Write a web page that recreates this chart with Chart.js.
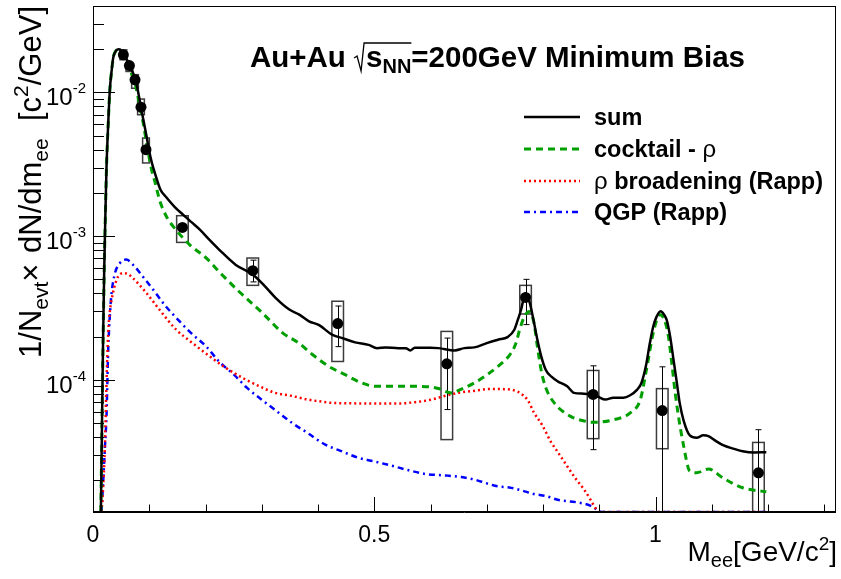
<!DOCTYPE html>
<html><head><meta charset="utf-8">
<script src="https://cdn.jsdelivr.net/npm/chart.js@4.4.0/dist/chart.umd.min.js"></script>
<style>html,body{margin:0;padding:0;background:#fff;}</style>
</head><body>
<canvas id="c" width="841" height="579"></canvas>
<script>
// ---------- data ----------
const sumMass  = [0.014,0.016,0.018,0.020,0.022,0.024,0.027,0.030,0.033,0.036,0.040,0.045,0.050,0.055,0.060,0.065,0.070,0.075,0.080,0.085,0.090,0.095,0.100,0.105,0.110,0.120,0.131,0.145,0.160,0.175,0.190,0.205,0.225,0.254,0.284,0.305,0.325,0.349,0.366,0.384,0.402,0.425,0.443,0.466,0.490,0.505,0.520,0.543,0.556,0.564,0.572,0.600,0.614,0.643,0.660,0.678,0.700,0.720,0.737,0.749,0.755,0.761,0.765,0.769,0.773,0.778,0.784,0.790,0.797,0.805,0.815,0.826,0.843,0.855,0.873,0.896,0.911,0.925,0.943,0.955,0.967,0.975,0.983,0.990,0.996,1.002,1.009,1.015,1.020,1.026,1.032,1.038,1.043,1.050,1.061,1.073,1.085,1.094,1.107,1.120,1.140,1.155,1.175,1.197];
const sumYield = [1.2e-5,5e-5,2e-4,6e-4,1.4e-3,3.0e-3,6.0e-3,1.05e-2,1.4e-2,1.75e-2,1.93e-2,2.0e-2,1.97e-2,1.85e-2,1.7e-2,1.55e-2,1.4e-2,1.25e-2,1.02e-2,8.0e-3,6.3e-3,5.0e-3,3.9e-3,3.2e-3,2.75e-3,2.1e-3,1.85e-3,1.6e-3,1.41e-3,1.25e-3,1.11e-3,9.6e-4,8.0e-4,6.3e-4,5.4e-4,4.5e-4,3.7e-4,3.08e-4,2.85e-4,2.55e-4,2.40e-4,2.06e-4,1.95e-4,1.82e-4,1.75e-4,1.66e-4,1.68e-4,1.66e-4,1.66e-4,1.60e-4,1.67e-4,1.67e-4,1.66e-4,1.60e-4,1.66e-4,1.68e-4,1.80e-4,1.90e-4,1.98e-4,2.23e-4,2.6e-4,3.07e-4,3.6e-4,4.0e-4,3.8e-4,3.25e-4,2.5e-4,1.9e-4,1.45e-4,1.17e-4,1.05e-4,9.75e-5,9.0e-5,8.1e-5,8.0e-5,7.67e-5,7.28e-5,7.5e-5,7.5e-5,7.8e-5,8.5e-5,9.5e-5,1.25e-4,1.8e-4,2.35e-4,2.75e-4,3.0e-4,2.85e-4,2.6e-4,2.0e-4,1.38e-4,9.5e-5,6.9e-5,5.2e-5,4.1e-5,3.95e-5,4.1e-5,4.05e-5,3.75e-5,3.5e-5,3.3e-5,3.18e-5,3.12e-5,3.13e-5];

const cocktailMass  = [0.014,0.016,0.018,0.020,0.022,0.024,0.027,0.030,0.033,0.036,0.040,0.045,0.050,0.055,0.060,0.065,0.070,0.075,0.080,0.085,0.090,0.095,0.100,0.105,0.110,0.119,0.131,0.148,0.172,0.201,0.225,0.260,0.301,0.337,0.366,0.390,0.419,0.449,0.475,0.502,0.540,0.566,0.600,0.614,0.637,0.655,0.678,0.700,0.720,0.743,0.752,0.758,0.767,0.776,0.784,0.790,0.797,0.805,0.820,0.849,0.870,0.890,0.926,0.955,0.973,0.985,0.996,1.008,1.016,1.023,1.029,1.035,1.042,1.049,1.061,1.073,1.094,1.120,1.155,1.191,1.197];
const cocktailYield = [1.2e-5,5e-5,2e-4,6e-4,1.4e-3,3.0e-3,6.0e-3,1.05e-2,1.4e-2,1.75e-2,1.93e-2,1.98e-2,1.95e-2,1.8e-2,1.63e-2,1.47e-2,1.3e-2,1.15e-2,9.3e-3,7.5e-3,5.9e-3,4.5e-3,3.5e-3,2.8e-3,2.4e-3,1.75e-3,1.36e-3,1.10e-3,8.7e-4,7.05e-4,5.6e-4,4.1e-4,2.92e-4,2.12e-4,1.8e-4,1.5e-4,1.24e-4,1.08e-4,9.6e-5,9.0e-5,9.0e-5,9.0e-5,8.9e-5,8.7e-5,8.1e-5,8.6e-5,9.5e-5,1.08e-4,1.24e-4,1.53e-4,1.8e-4,2.2e-4,2.76e-4,2.99e-4,2.48e-4,1.7e-4,1.15e-4,8.8e-5,6.9e-5,5.56e-5,5.2e-5,5.05e-5,5.27e-5,5.87e-5,7.28e-5,1.24e-4,2.12e-4,2.84e-4,2.6e-4,2.0e-4,1.3e-4,8.1e-5,5.2e-5,3.63e-5,2.31e-5,2.25e-5,2.39e-5,2.07e-5,1.77e-5,1.67e-5,1.66e-5];

const rhoMass  = [0.015,0.017,0.021,0.024,0.027,0.030,0.033,0.042,0.0535,0.062,0.071,0.083,0.095,0.118,0.148,0.177,0.207,0.236,0.266,0.296,0.324,0.351,0.380,0.402,0.425,0.460,0.502,0.543,0.575,0.602,0.625,0.649,0.680,0.708,0.730,0.749,0.761,0.773,0.784,0.799,0.814,0.826,0.843,0.858,0.873,0.885,0.893,0.900,1.197];
const rhoYield = [1.2e-5,1.5e-5,3.3e-5,9.5e-5,2.1e-4,3.0e-4,3.6e-4,4.97e-4,5.53e-4,5.45e-4,5.1e-4,4.55e-4,4.02e-4,3.08e-4,2.23e-4,1.80e-4,1.46e-4,1.21e-4,1.03e-4,9.0e-5,8.1e-5,7.75e-5,7.3e-5,7.08e-5,6.9e-5,6.85e-5,6.83e-5,6.83e-5,7.0e-5,7.28e-5,7.7e-5,8.1e-5,8.4e-5,8.63e-5,8.6e-5,8.43e-5,8.0e-5,7.2e-5,5.9e-5,4.8e-5,3.7e-5,3.15e-5,2.5e-5,2.05e-5,1.72e-5,1.45e-5,1.28e-5,1.2e-5,1.2e-5];

const qgpMass  = [0.015,0.018,0.021,0.024,0.027,0.030,0.033,0.039,0.048,0.059,0.074,0.086,0.107,0.127,0.151,0.174,0.201,0.224,0.251,0.274,0.296,0.330,0.354,0.380,0.413,0.440,0.472,0.500,0.531,0.560,0.590,0.631,0.655,0.678,0.700,0.720,0.740,0.761,0.784,0.805,0.826,0.861,0.884,0.896,0.905,1.197];
const qgpYield = [1.2e-5,1.9e-5,3.3e-5,5.6e-5,1.6e-4,2.8e-4,4.0e-4,5.5e-4,6.5e-4,6.86e-4,6.15e-4,5.38e-4,4.24e-4,3.33e-4,2.62e-4,2.12e-4,1.71e-4,1.34e-4,1.08e-4,8.77e-5,7.46e-5,5.9e-5,5.0e-5,4.3e-5,3.53e-5,3.2e-5,2.86e-5,2.7e-5,2.52e-5,2.35e-5,2.21e-5,2.15e-5,2.1e-5,2.02e-5,1.9e-5,1.81e-5,1.78e-5,1.70e-5,1.6e-5,1.55e-5,1.46e-5,1.4e-5,1.33e-5,1.25e-5,1.2e-5,1.2e-5];

const dataMass    = [0.054,0.0647,0.0747,0.0853,0.0942,0.159,0.284,0.435,0.629,0.769,0.889,1.012,1.183];
const dataYield   = [0.0183,0.0154,0.01225,0.0079,0.0040,0.00115,5.75e-4,2.46e-4,1.29e-4,3.74e-4,7.9e-5,6.1e-5,2.25e-5];
const statHigh    = [0.0187,0.0157,0.0125,0.0081,0.0041,0.00118,6.8e-4,3.26e-4,1.95e-4,5.0e-4,1.25e-4,1.23e-4,4.49e-5];
const statLow     = [0.0179,0.0151,0.0120,0.0077,0.0039,0.00112,4.8e-4,1.7e-4,6.2e-5,2.42e-4,3.26e-5,1e-6,1e-6];
const sysHigh     = [0.0198,0.0160,0.0133,0.0090,0.00482,0.001387,7.04e-4,3.52e-4,2.17e-4,4.54e-4,1.16e-4,8.67e-5,3.66e-5];
const sysLow      = [0.0169,0.0140,0.0107,0.0070,0.00323,9.04e-4,4.54e-4,1.34e-4,3.83e-5,2.87e-4,3.89e-5,3.31e-5,1e-6];
const sysHalfWidth= [0.006,0.006,0.006,0.006,0.006,0.0103,0.0103,0.0103,0.0103,0.0103,0.0103,0.0103,0.0103];

const xTickLabels = ['0','0.5','1'];
const xTickValues = [0,0.5,1];
const yTickExps   = [-2,-3,-4];
const legendLabels = ['sum','cocktail - ρ','ρ broadening (Rapp)','QGP (Rapp)'];

// ---------- styling ----------
const FONT = '"Liberation Sans", Arial, Helvetica, sans-serif';
const GREEN = '#009f00';
const styles = [
  {color:'#000000', dash:[], width:2.5},
  {color:GREEN, dash:[7,5], width:3},
  {color:'#ff0000', dash:[2,3], width:2.5},
  {color:'#0000ff', dash:[6,4,2,4], width:2.5}
];
const pts = (xs, ys) => xs.map((v,i)=>({x:v, y:ys[i]}));

function lineDs(label, xs, ys, st){
  return {type:'line', label, data:pts(xs,ys), borderColor:st.color, borderDash:st.dash,
    borderWidth:st.width, pointRadius:0, fill:false, cubicInterpolationMode:'monotone', borderCapStyle:'butt'};
}

function drawRich(ctx, parts, x, y, align){
  let w=0;
  parts.forEach(p=>{ctx.font=p.font; w+=ctx.measureText(p.t).width + (p.gap||0);});
  let cx = align==='right' ? x-w : align==='center' ? x-w/2 : x;
  parts.forEach(p=>{ctx.font=p.font; ctx.fillText(p.t, cx, y+(p.dy||0)); cx += ctx.measureText(p.t).width + (p.gap||0);});
  return w;
}

const decor = {
  id:'decor',
  beforeDatasetsDraw(chart){
    const {ctx, chartArea:a, scales:{x,y}} = chart;
    ctx.save();
    ctx.beginPath(); ctx.rect(a.left, a.top, a.right-a.left, a.bottom-a.top); ctx.clip();
    // systematic boxes
    ctx.strokeStyle='#3c3c3c'; ctx.lineWidth=1.5;
    for(let i=0;i<dataMass.length;i++){
      const x0=x.getPixelForValue(dataMass[i]-sysHalfWidth[i]);
      const x1=x.getPixelForValue(dataMass[i]+sysHalfWidth[i]);
      const y0=y.getPixelForValue(sysHigh[i]);
      const y1=Math.min(y.getPixelForValue(sysLow[i]), a.bottom+3);
      ctx.strokeRect(x0, y0, x1-x0, y1-y0);
    }
    // statistical error bars
    ctx.strokeStyle='#000'; ctx.lineWidth=1;
    for(let i=0;i<dataMass.length;i++){
      const px=Math.round(x.getPixelForValue(dataMass[i]))+0.5;
      const yt=y.getPixelForValue(statHigh[i]);
      const yb=Math.min(y.getPixelForValue(statLow[i]), a.bottom+3);
      ctx.beginPath(); ctx.moveTo(px,yt); ctx.lineTo(px,yb); ctx.stroke();
      ctx.beginPath(); ctx.moveTo(px-3,yt); ctx.lineTo(px+3,yt);
      if(yb < a.bottom){ ctx.moveTo(px-3,yb); ctx.lineTo(px+3,yb); }
      ctx.stroke();
    }
    ctx.restore();
  },
  afterDraw(chart){
    const {ctx, chartArea:a, scales:{x,y}} = chart;
    ctx.save();
    ctx.strokeStyle='#000'; ctx.lineWidth=1;
    ctx.strokeRect(Math.round(a.left)+0.5, Math.round(a.top)+0.5, Math.round(a.right-a.left)-1, Math.round(a.bottom-a.top)-1);
    // y ticks (inward)
    const ymin=y.min, ymax=y.max;
    ctx.beginPath();
    for(let n=-6;n<=0;n++){
      for(let m=1;m<=9;m++){
        const v=m*Math.pow(10,n);
        if(v<ymin||v>ymax) continue;
        const py=Math.round(y.getPixelForValue(v))+0.5;
        const len = m===1?22:11;
        ctx.moveTo(a.left, py); ctx.lineTo(a.left+len, py);
      }
    }
    // x ticks (inward)
    for(let k=0;k<=13;k++){
      const v=k*0.1;
      if(v>x.max) continue;
      const px=Math.round(x.getPixelForValue(v))+0.5;
      const len = k%5===0?15:7.5;
      ctx.moveTo(px, a.bottom); ctx.lineTo(px, a.bottom-len);
    }
    ctx.stroke();

    ctx.fillStyle='#000'; ctx.textBaseline='alphabetic';
    // y tick labels
    yTickExps.forEach(e=>{
      const py=y.getPixelForValue(Math.pow(10,e));
      ctx.font='15px '+FONT;
      const sup=String(e);
      const ws=ctx.measureText(sup).width;
      const xe=86;
      ctx.fillText(sup, xe-ws, py+1);
      ctx.font='24px '+FONT;
      ctx.textAlign='right';
      ctx.fillText('10', xe-ws, py+13);
      ctx.textAlign='left';
    });
    // x tick labels
    ctx.font='23px '+FONT; ctx.textAlign='center';
    xTickValues.forEach((v,i)=>{ ctx.fillText(xTickLabels[i], x.getPixelForValue(v), 542); });
    ctx.textAlign='left';
    // x title
    drawRich(ctx, [
      {t:'M', font:'28px '+FONT},
      {t:'ee', font:'20px '+FONT, dy:6},
      {t:'[GeV/c', font:'28px '+FONT},
      {t:'2', font:'19px '+FONT, dy:-11},
      {t:']', font:'28px '+FONT}
    ], 837, 561, 'right');
    // y title (rotated)
    ctx.save();
    ctx.translate(41, 6);
    ctx.rotate(-Math.PI/2);
    drawRich(ctx, [
      {t:'1/N', font:'31px '+FONT},
      {t:'evt', font:'21px '+FONT, dy:7},
      {t:'×', font:'31px '+FONT, gap:2},
      {t:' dN/dm', font:'31px '+FONT},
      {t:'ee', font:'21px '+FONT, dy:7},
      {t:'  [c', font:'31px '+FONT},
      {t:'2', font:'21px '+FONT, dy:-13},
      {t:'/GeV]', font:'31px '+FONT}
    ], 0, 0, 'right');
    ctx.restore();

    // title
    const tb='bold 29.5px '+FONT, tsub='bold 20px '+FONT;
    let tx=250, ty=67;
    ctx.font=tb; ctx.fillText('Au+Au ', tx, ty); tx+=ctx.measureText('Au+Au ').width;
    // radical
    ctx.lineWidth=1.3;
    ctx.beginPath();
    ctx.moveTo(tx, ty-9); ctx.lineTo(tx+3, ty-11); ctx.lineTo(tx+7, ty+4); ctx.lineTo(tx+10, ty-24);
    const sStart=tx+12;
    ctx.font=tb; const sw=ctx.measureText('s').width;
    ctx.font=tsub; const nw=ctx.measureText('NN').width;
    ctx.lineTo(sStart+sw+nw, ty-24);
    ctx.stroke();
    tx=sStart;
    ctx.font=tb; ctx.fillText('s', tx, ty); tx+=sw;
    ctx.font=tsub; ctx.fillText('NN', tx, ty+6); tx+=nw;
    ctx.font=tb; ctx.fillText('=200GeV Minimum Bias', tx, ty);

    // legend
    const ly=[117,149,181,212];
    ly.forEach((yy,i)=>{
      const st=styles[i];
      ctx.save();
      ctx.strokeStyle=st.color; ctx.lineWidth=st.width; ctx.setLineDash(st.dash);
      ctx.beginPath(); ctx.moveTo(524,yy); ctx.lineTo(580,yy); ctx.stroke();
      ctx.restore();
    });
    const LB='bold 23.5px '+FONT, LR='24px '+FONT;
    ctx.fillStyle='#000';
    drawRich(ctx,[{t:legendLabels[0],font:LB}],594,ly[0]+8,'left');
    drawRich(ctx,[{t:'cocktail - ',font:LB},{t:'ρ',font:LR}],594,ly[1]+8,'left');
    drawRich(ctx,[{t:'ρ',font:LR},{t:' broadening (Rapp)',font:LB}],594,ly[2]+8,'left');
    drawRich(ctx,[{t:legendLabels[3],font:LB}],594,ly[3]+8,'left');
    ctx.restore();
  }
};

new Chart(document.getElementById('c'), {
  type:'line',
  data:{datasets:[
    {type:'scatter', label:'data', data:pts(dataMass,dataYield), pointRadius:5.5, pointBackgroundColor:'#000', pointBorderColor:'#000', pointBorderWidth:0, showLine:false},
    lineDs(legendLabels[0], sumMass, sumYield, styles[0]),
    lineDs(legendLabels[1], cocktailMass, cocktailYield, styles[1]),
    lineDs(legendLabels[2], rhoMass, rhoYield, styles[2]),
    lineDs(legendLabels[3], qgpMass, qgpYield, styles[3])
  ]},
  options:{
    responsive:false, animation:false, devicePixelRatio:1,
    layout:{padding:{top:6,right:3,left:0,bottom:0}},
    plugins:{legend:{display:false}, tooltip:{enabled:false}},
    scales:{
      x:{type:'linear', min:0, max:1.32, grid:{display:false}, ticks:{display:false},
         border:{display:true,color:'#000',width:1}, afterFit(s){s.height=67;}},
      y:{type:'logarithmic', min:1.2e-5, max:0.04, grid:{display:false}, ticks:{display:false},
         border:{display:true,color:'#000',width:1}, afterFit(s){s.width=93;}}
    }
  },
  plugins:[decor]
});
</script>
</body></html>
